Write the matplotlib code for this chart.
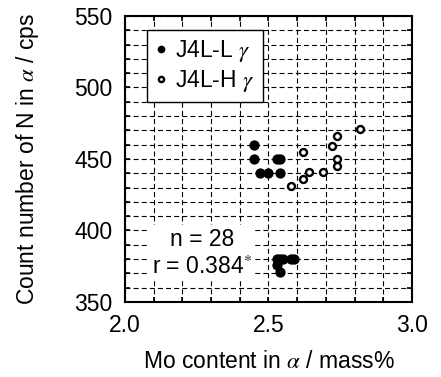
import matplotlib
matplotlib.use("Agg")
import matplotlib.pyplot as plt
from matplotlib.ticker import MultipleLocator

plt.rcParams.update({
    "font.family": ["Liberation Sans", "DejaVu Sans"],
    "mathtext.fontset": "stix",
    "font.size": 16.5,
})

# J4L-L gamma (filled)
low_x = [2.45, 2.45, 2.47, 2.50, 2.53, 2.54, 2.54,
         2.53, 2.54, 2.55, 2.58, 2.59, 2.53, 2.54]
low_y = [460, 450, 440, 440, 450, 450, 440,
         380, 380, 380, 380, 380, 376, 371]
# J4L-H gamma (open)
high_x = [2.58, 2.62, 2.64, 2.62, 2.69, 2.72, 2.74, 2.74, 2.74, 2.82]
high_y = [431, 436, 441, 455, 441, 459, 466, 450, 445, 471]

stats_text = "n = 28\nr = 0.384$^{*}$"

fig = plt.figure(figsize=(4.41, 3.77), dpi=100)
ax = fig.add_axes([0.2834, 0.199, 0.6508, 0.7586])

ax.plot(low_x, low_y, "o", color="black", ms=7.4, mew=0, label=r"J4L-L $\gamma$", zorder=3)
ax.plot(high_x, high_y, "o", mfc="white", mec="black", ms=5.0, mew=1.7,
        label=r"J4L-H $\gamma$", zorder=3)

ax.set_xlim(2.0, 3.0)
ax.set_ylim(350, 550)
ax.xaxis.set_major_locator(MultipleLocator(0.5))
ax.xaxis.set_minor_locator(MultipleLocator(0.1))
ax.yaxis.set_major_locator(MultipleLocator(50))
ax.yaxis.set_minor_locator(MultipleLocator(10))
ax.xaxis.set_major_formatter(matplotlib.ticker.FormatStrFormatter("%.1f"))

ax.grid(True, which="both", color="black", lw=0.8, linestyle=(0, (4.5, 2.8)))
ax.set_axisbelow(True)
ax.tick_params(which="both", direction="in", top=True, right=True, length=3.5, width=1.2)
ax.tick_params(which="major", pad=9, labelsize=16.5)
for s in ax.spines.values():
    s.set_linewidth(1.5)

ax.set_xlabel(r"Mo content in $\alpha$ / mass%", fontsize=16.5, labelpad=9)
ax.set_ylabel(r"Count number of N in $\alpha$ / cps", fontsize=16.5, labelpad=24)

leg = ax.legend(loc="upper left", bbox_to_anchor=(0.075, 0.952), borderaxespad=0,
                fancybox=False, framealpha=1, edgecolor="black", markerscale=0.75,
                handlelength=0.6, handletextpad=0.3, borderpad=0.35, labelspacing=0.2,
                fontsize=16.5)
leg.get_frame().set_linewidth(1.0)

ax.text(2.27, 384, stats_text, ha="center", va="center", fontsize=16.5, linespacing=1.25,
        bbox=dict(facecolor="white", edgecolor="none", pad=2), zorder=2)

fig.savefig("out.png", dpi=100)
